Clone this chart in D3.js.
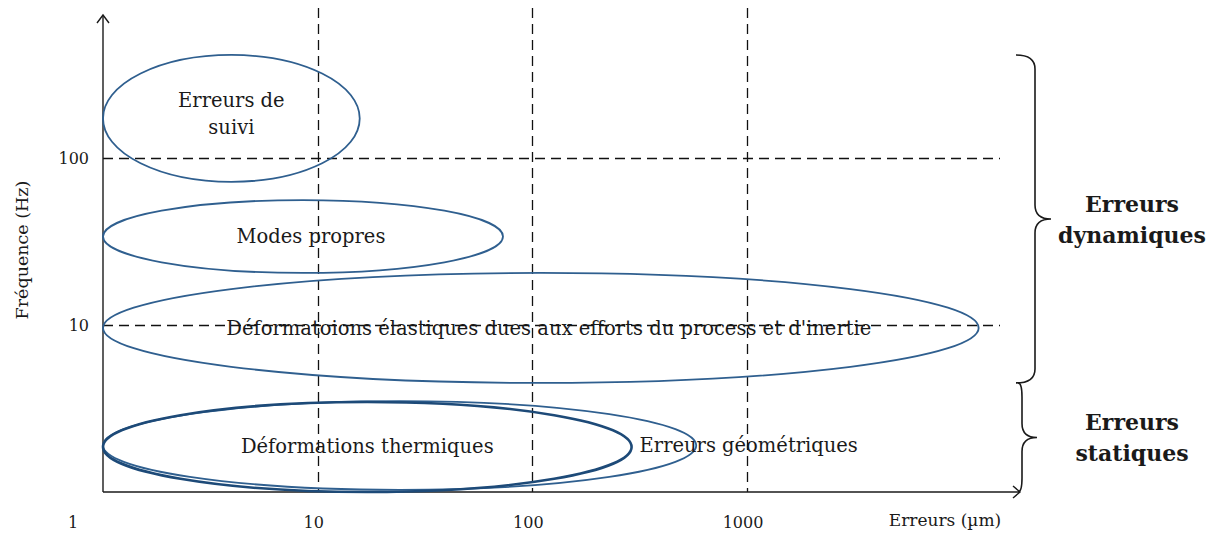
<!DOCTYPE html>
<html><head><meta charset="utf-8">
<script src="https://cdn.jsdelivr.net/npm/d3@7"></script>
<style>body{margin:0;background:#fff}svg{display:block}</style>
</head><body>
<svg id="c" width="1219" height="535"></svg>
<script>
// ---- data ----
const xTicks = [1, 10, 100, 1000];
const yTicks = [10, 100];
const zoneNames = ["Erreurs de suivi", "Modes propres",
  "Déformatoions élastiques dues aux efforts du process et d'inertie",
  "Erreurs géométriques", "Déformations thermiques"];
const zoneErrMin = [1, 1, 1, 1, 1];          // µm
const zoneErrMax = [15.7, 73, 12000, 580, 290];
const zoneFreqMin = [72, 20.5, 4.5, 1.03, 1];  // Hz
const zoneFreqMax = [414, 56, 20.5, 3.5, 3.46];
const groupNames = [["Erreurs", "dynamiques"], ["Erreurs", "statiques"]];
const groupFreqTop = [414, 4.5];
const groupFreqBottom = [4.5, 1];
const xTitle = "Erreurs (µm)";
const yTitle = "Fréquence (Hz)";

// ---- drawing ----
const svg = d3.select("#c");
const font = "DejaVu Serif";
const ink = "#1a1a1a";
const x = d3.scaleLog().domain([1, 1000]).range([103, 747]);
const y = d3.scaleLog().domain([1, 100]).range([492, 158]);
const xEnd = 1020, yTop = 15;

// gridlines
const grid = svg.append("g").attr("stroke", "#111").attr("stroke-width", 1.3).attr("stroke-dasharray", "10,6");
grid.selectAll("line.v").data(xTicks.slice(1)).join("line")
  .attr("x1", d => Math.round(x(d)) + 0.5).attr("x2", d => Math.round(x(d)) + 0.5).attr("y1", 8).attr("y2", y(1));
grid.selectAll("line.h").data(yTicks).join("line")
  .attr("x1", x(1)).attr("x2", 1000).attr("y1", d => Math.round(y(d)) + 0.5).attr("y2", d => Math.round(y(d)) + 0.5);

// axes
const ax = svg.append("g").attr("stroke", ink).attr("stroke-width", 1.4).attr("fill", "none");
ax.append("line").attr("x1", x(1)).attr("x2", x(1)).attr("y1", y(1)).attr("y2", yTop);
ax.append("path").attr("d", `M${x(1)-6},${yTop+8}L${x(1)},${yTop}L${x(1)+6},${yTop+8}`);
ax.append("line").attr("x1", x(1)).attr("x2", xEnd).attr("y1", y(1)).attr("y2", y(1));
ax.append("path").attr("d", `M${xEnd-7},${y(1)-6}L${xEnd},${y(1)}L${xEnd-7},${y(1)+6}`);

// tick labels
svg.append("g").selectAll("text").data(xTicks).join("text")
  .attr("x", (d, i) => i === 0 ? x(d) - 30 : x(d) - 4).attr("y", 528)
  .attr("text-anchor", "middle").attr("font-family", font).attr("font-size", 16).attr("fill", ink)
  .text(d => d);
svg.append("g").selectAll("text").data(yTicks).join("text")
  .attr("x", 89).attr("y", d => y(d) + 6)
  .attr("text-anchor", "end").attr("font-family", font).attr("font-size", 16).attr("fill", ink)
  .text(d => d);

// titles
svg.append("text").attr("x", 945).attr("y", 526).attr("text-anchor", "middle")
  .attr("font-family", font).attr("font-size", 17).attr("fill", ink).text(xTitle);
svg.append("text").attr("transform", "translate(28,250) rotate(-90)").attr("text-anchor", "middle")
  .attr("font-family", font).attr("font-size", 17.5).attr("fill", ink).text(yTitle);

// ellipses
const zones = zoneNames.map((n, i) => ({
  name: n, x0: x(zoneErrMin[i]), x1: x(zoneErrMax[i]), y0: y(zoneFreqMax[i]), y1: y(zoneFreqMin[i]), i
}));
svg.append("g").selectAll("ellipse").data(zones).join("ellipse")
  .attr("cx", d => (d.x0 + d.x1) / 2).attr("cy", d => (d.y0 + d.y1) / 2)
  .attr("rx", d => (d.x1 - d.x0) / 2).attr("ry", d => (d.y1 - d.y0) / 2)
  .attr("fill", "none")
  .attr("stroke", d => d.i === 4 ? "#1d4a78" : "#2f5f8f")
  .attr("stroke-width", d => d.i === 4 ? 2.6 : 1.8);

// zone labels
const lbl = svg.append("g").attr("font-family", font).attr("font-size", 19.5).attr("fill", ink);
zones.forEach(d => {
  const cx = (d.x0 + d.x1) / 2, cy = (d.y0 + d.y1) / 2;
  if (d.i === 0) {
    const t = lbl.append("text").attr("text-anchor", "middle");
    t.append("tspan").attr("x", cx).attr("y", cy - 11).text("Erreurs de");
    t.append("tspan").attr("x", cx).attr("y", cy + 16).text("suivi");
  } else if (d.i === 3) {
    lbl.append("text").attr("x", zones[4].x1 + 8).attr("y", cy + 7).text(d.name);
  } else if (d.i === 4) {
    lbl.append("text").attr("x", cx).attr("y", cy + 6).attr("text-anchor", "middle").text(d.name);
  } else {
    lbl.append("text").attr("x", cx + 8).attr("y", cy + 7).attr("text-anchor", "middle").text(d.name);
  }
});

// braces
function brace(x0, xs, xt, y0, y1) {
  const ym = (y0 + y1) / 2, r = 14;
  return `M${x0},${y0}Q${xs},${y0} ${xs},${y0 + r}L${xs},${ym - r}Q${xs},${ym} ${xt},${ym}` +
    `Q${xs},${ym} ${xs},${ym + r}L${xs},${y1 - r}Q${xs},${y1} ${x0},${y1}`;
}
const bx = [[1016, 1035, 1051], [1018, 1022, 1037]];
groupNames.forEach((g, i) => {
  const y0 = y(groupFreqTop[i]), y1 = y(groupFreqBottom[i]);
  svg.append("path").attr("d", brace(bx[i][0], bx[i][1], bx[i][2], y0, y1))
    .attr("fill", "none").attr("stroke", ink).attr("stroke-width", 1.6);
  const ym = (y0 + y1) / 2;
  const t = svg.append("text").attr("text-anchor", "middle").attr("font-family", font)
    .attr("font-weight", "bold").attr("font-size", 22).attr("fill", ink);
  t.append("tspan").attr("x", 1132).attr("y", ym - 7).text(g[0]);
  t.append("tspan").attr("x", 1132).attr("y", ym + 24).text(g[1]);
});
</script>
</body></html>
